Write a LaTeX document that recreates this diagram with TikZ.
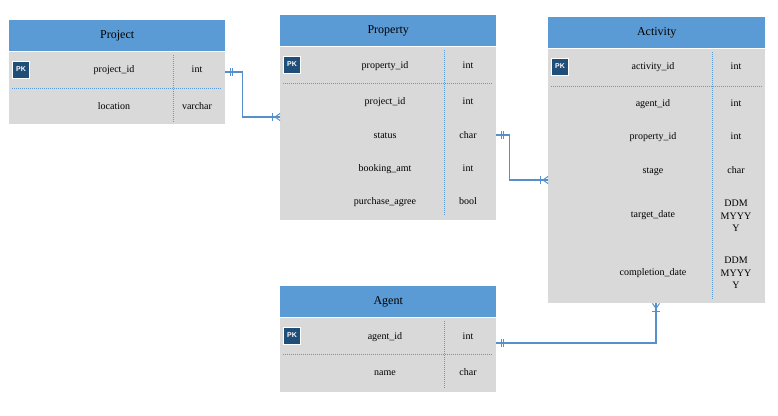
\documentclass[tikz,border=0pt]{standalone}
\usepackage{fontspec}
\setmainfont{Liberation Serif}
\newfontfamily\pkfont{Liberation Sans}
\usetikzlibrary{calc}
\definecolor{hdr}{HTML}{5B9BD5}
\definecolor{bodygray}{HTML}{D9D9D9}
\definecolor{pkblue}{HTML}{1F4E79}
\definecolor{link}{HTML}{5590CC}
\definecolor{sep}{HTML}{5B9BD5}

\begin{document}
\begin{tikzpicture}[x=1pt,y=-1pt,
  header/.style={fill=hdr, draw=none, anchor=north west, inner sep=0pt,
    minimum width=216, minimum height=31, font=\fontsize{12}{14}\selectfont},
  tbody/.style={fill=bodygray, draw=none, anchor=north west, inner sep=0pt,
    minimum width=216},
  divider/.style={draw=sep, line width=0.8pt, dash pattern=on 1pt off 1pt},
  pk/.style={fill=pkblue, draw=white, line width=0.9pt, minimum width=17,
    minimum height=17, inner sep=0pt, text=white,
    font=\pkfont\bfseries\fontsize{7}{8}\selectfont},
  mtxt/.style={inner sep=0pt, font=\fontsize{10}{12.5}\selectfont, align=center},
  txt/.style={mtxt, text height=7pt, text depth=2.3pt, yshift=-1.5pt},
  conn/.style={draw=link, line width=1.2pt},
  tickmark/.style={draw=link, line width=1pt},
  mandone/.pic={\draw[tickmark] (5,-4)--(5,4) (7,-4)--(7,4);},
  onemany/.pic={\draw[tickmark] (8,-4)--(8,4);
    \draw[tickmark] (5,0)--(0,-3.5) (5,0)--(0,0) (5,0)--(0,3.5);}
]
\useasboundingbox (0,0) rectangle (778,415);

% ---------- Project ----------
\node[header] (project) at (9,20) {Project};
\node[tbody, minimum height=72] (projectbody) at (9,52) {};
\draw[divider] (173,55) -- (173,122);
\draw[divider] (12,88) -- (222,88);
\node[pk] (projectpk) at (21,69.5) {PK};
\node[txt] (projectid) at (114,69) {project\_id};
\node[txt] (projectidt) at (197,69) {int};
\node[txt] (projectloc) at (114,106) {location};
\node[txt] (projectloct) at (197,106) {varchar};

% ---------- Property ----------
\node[header] (property) at (280,15) {Property};
\node[tbody, minimum height=173] (propertybody) at (280,47) {};
\draw[divider] (444,50) -- (444,216);
\draw[divider] (283,83) -- (493,83);
\node[pk] (propertypk) at (292,64.5) {PK};
\node[txt] (propid) at (385,65) {property\_id};
\node[txt] (propidt) at (468,65) {int};
\node[txt] (propproj) at (385,101) {project\_id};
\node[txt] (propprojt) at (468,101) {int};
\node[txt] (propstatus) at (385,135) {status};
\node[txt] (propstatust) at (468,135) {char};
\node[txt] (propbook) at (385,168) {booking\_amt};
\node[txt] (propbookt) at (468,168) {int};
\node[txt] (proppurch) at (385,201) {purchase\_agree};
\node[txt] (proppurcht) at (468,201) {bool};

% ---------- Activity ----------
\node[header, minimum width=217] (activity) at (548,17) {Activity};
\node[tbody, minimum width=217, minimum height=254] (activitybody) at (548,49) {};
\draw[divider] (712,52) -- (712,300);
\draw[divider] (551,86) -- (762,86);
\node[pk] (activitypk) at (560,66.5) {PK};
\node[txt] (actid) at (653,66) {activity\_id};
\node[txt] (actidt) at (736,66) {int};
\node[txt] (actagent) at (653,103) {agent\_id};
\node[txt] (actagentt) at (736,103) {int};
\node[txt] (actprop) at (653,136) {property\_id};
\node[txt] (actpropt) at (736,136) {int};
\node[txt] (actstage) at (653,170) {stage};
\node[txt] (actstaget) at (736,170) {char};
\node[txt] (acttarget) at (653,214) {target\_date};
\node[mtxt] (acttargett) at (736,216) {DDM\\MYYY\\Y};
\node[txt] (actcompl) at (653,272) {completion\_date};
\node[mtxt] (actcomplt) at (736,273) {DDM\\MYYY\\Y};

% ---------- Agent ----------
\node[header] (agent) at (280,286) {Agent};
\node[tbody, minimum height=74] (agentbody) at (280,318) {};
\draw[divider] (444,321) -- (444,389);
\draw[divider] (283,354) -- (493,354);
\node[pk] (agentpk) at (292,335.5) {PK};
\node[txt] (agentid) at (385,336) {agent\_id};
\node[txt] (agentidt) at (468,336) {int};
\node[txt] (agentname) at (385,372) {name};
\node[txt] (agentnamet) at (468,372) {char};

% ---------- Relationships ----------
\coordinate (c1s) at ($(projectbody.north east)+(0,20)$);
\coordinate (c1e) at ($(propertybody.north west)+(0,70)$);
\draw[conn] (c1s) -- ++(17,0) |- (c1e);
\pic at (c1s) {mandone};
\pic[rotate=180] at (c1e) {onemany};

\coordinate (c2s) at ($(propertybody.north east)+(0,88)$);
\coordinate (c2e) at ($(activitybody.north west)+(0,131)$);
\draw[conn] (c2s) -- ++(13,0) |- (c2e);
\pic at (c2s) {mandone};
\pic[rotate=180] at (c2e) {onemany};

\coordinate (c3s) at ($(agentbody.north east)+(0,25)$);
\coordinate (c3e) at ($(activitybody.south west)+(108,0)$);
\draw[conn] (c3s) -| (c3e);
\pic at (c3s) {mandone};
\pic[rotate=-90] at (c3e) {onemany};
\end{tikzpicture}
\end{document}
